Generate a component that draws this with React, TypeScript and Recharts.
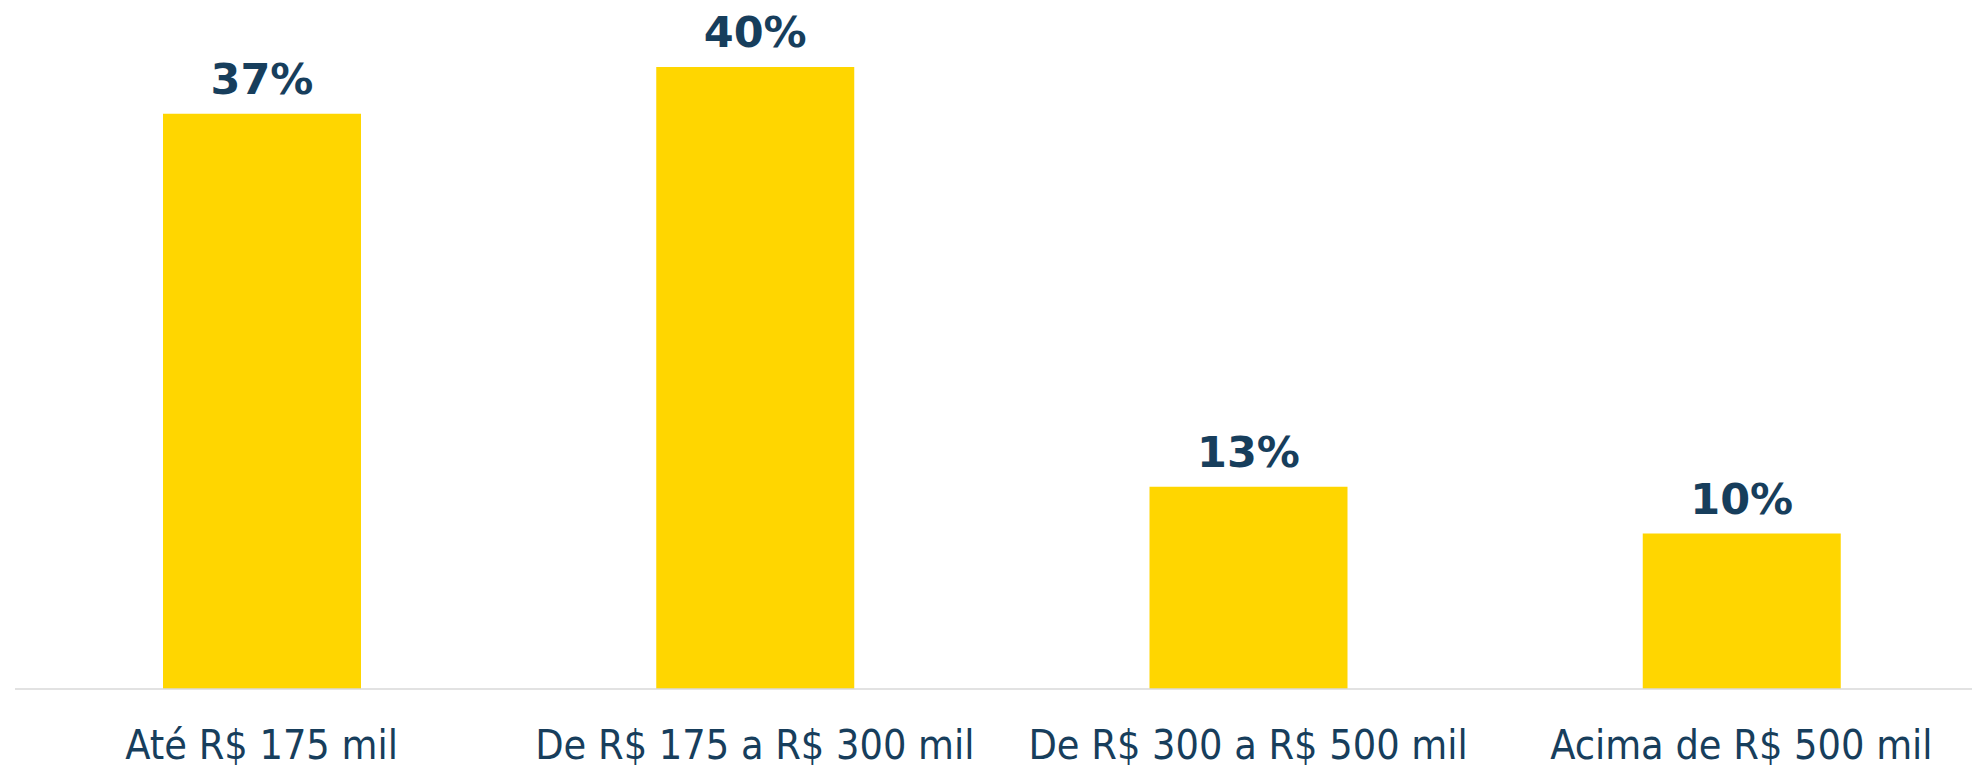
import React from 'react';
import { BarChart, Bar, XAxis, YAxis, LabelList } from 'recharts';

const categories = ['Até R$ 175 mil', 'De R$ 175 a R$ 300 mil', 'De R$ 300 a R$ 500 mil', 'Acima de R$ 500 mil'];
const shares = [37, 40, 13, 10];

const data = categories.map((name, i) => ({ name, value: shares[i] }));

const NAVY = '#173e5c';
const YELLOW = '#ffd600';

const CategoryTick = (props: any) => {
    const { x, y, payload } = props;
    return (
        <text
            x={x}
            y={y}
            dy={70}
            textAnchor="middle"
            fill={NAVY}
            fontSize={41}
            fontFamily="'DejaVu Sans Condensed', 'DejaVu Sans', sans-serif"
        >
            {payload.value}
        </text>
    );
};

export default function App() {
    return (
        <div style={{ position: 'absolute', left: 0, top: 0, width: 1972, height: 768, overflow: 'hidden', background: '#fff' }}>
            <BarChart
                width={1988}
                height={768}
                data={data}
                margin={{ top: 67, right: 0, left: 15, bottom: 0 }}
            >
                <XAxis
                    dataKey="name"
                    height={79}
                    tickSize={0}
                    tickMargin={0}
                    tickLine={false}
                    axisLine={{ stroke: '#d9d9d9', strokeWidth: 1.5 }}
                    tick={<CategoryTick />}
                    interval={0}
                />
                <YAxis hide domain={[0, 40]} />
                <Bar dataKey="value" fill={YELLOW} barSize={198} isAnimationActive={false}>
                    <LabelList
                        dataKey="value"
                        position="top"
                        offset={20}
                        formatter={(v: any) => `${v}%`}
                        fill={NAVY}
                        fontSize={43}
                        fontWeight="bold"
                        fontFamily="'DejaVu Sans', sans-serif"
                    />
                </Bar>
            </BarChart>
        </div>
    );
}
